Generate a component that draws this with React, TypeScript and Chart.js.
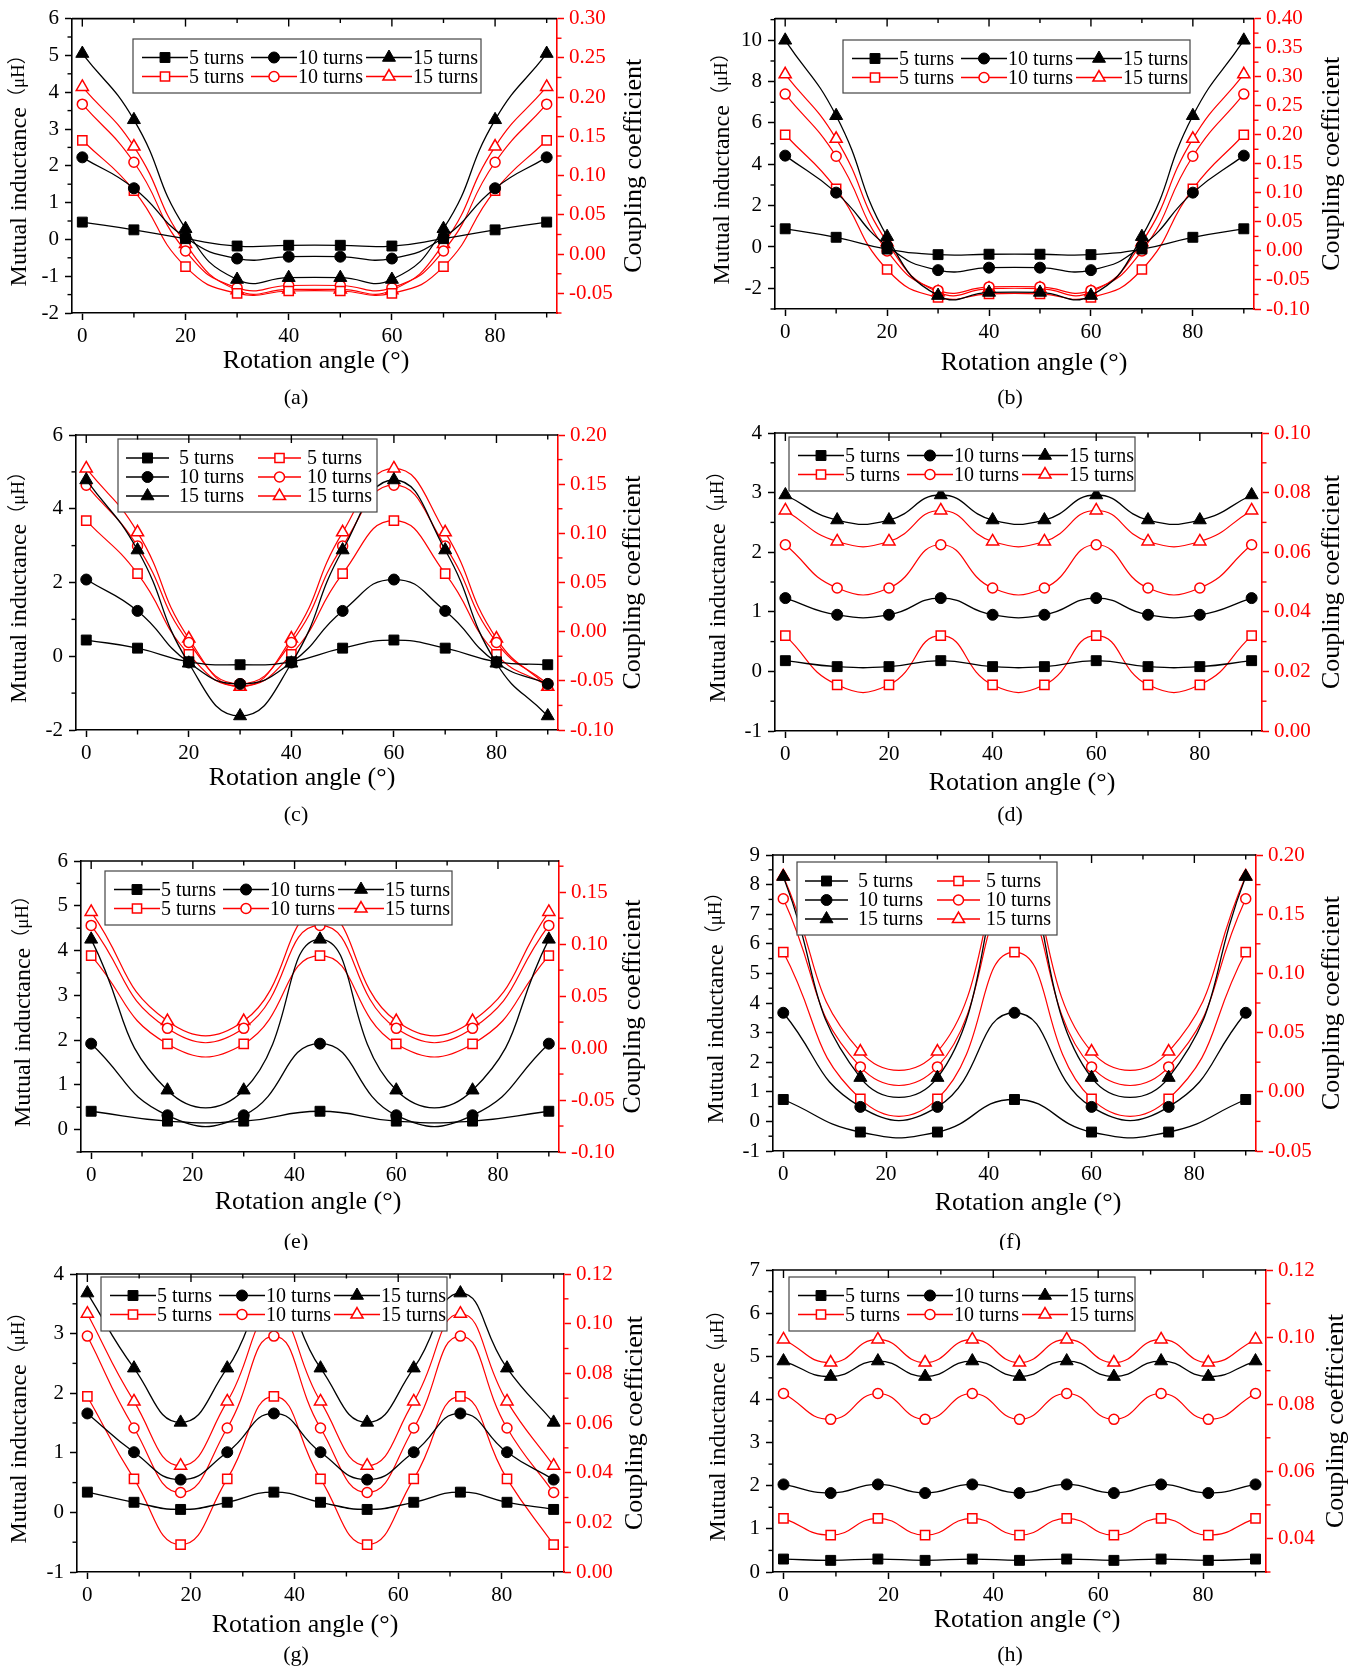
import React, { useEffect, useRef } from "react";
import { Chart, registerables } from "chart.js";

Chart.register(...registerables);

const SERIF = "'Liberation Serif', 'Times New Roman', 'DejaVu Serif', serif";
const UNIT_FONT = "'Liberation Serif', 'Noto Sans CJK SC', serif";
const RED = "#ff0000";

// ---------- angles (x values) ----------
const angles10 = [0, 10, 20, 30, 40, 50, 60, 70, 80, 90];
const angles15 = [0, 15, 30, 45, 60, 75, 90];
const angles9 = [0, 9, 18, 27, 36, 45, 54, 63, 72, 81, 90];

const seriesNames = ["5 turns", "10 turns", "15 turns"];
const xAxisTitle = "Rotation angle (°)";
const mutualTitle = "Mutual inductance";
const mutualUnit = "（μH）";
const couplingTitle = "Coupling coefficient";

// ---------- (a) ----------
const aMutual5 = [0.47, 0.26, 0.02, -0.18, -0.16, -0.16, -0.18, 0.02, 0.26, 0.47];
const aMutual10 = [2.23, 1.39, 0.05, -0.52, -0.47, -0.47, -0.52, 0.05, 1.39, 2.23];
const aMutual15 = [5.05, 3.25, 0.29, -1.09, -1.04, -1.04, -1.09, 0.29, 3.25, 5.05];
const aCoupling5 = [0.145, 0.081, -0.016, -0.05, -0.047, -0.047, -0.05, -0.016, 0.081, 0.145];
const aCoupling10 = [0.191, 0.117, 0.004, -0.043, -0.04, -0.04, -0.043, 0.004, 0.117, 0.191];
const aCoupling15 = [0.213, 0.137, 0.013, -0.046, -0.045, -0.045, -0.046, 0.013, 0.137, 0.213];

// ---------- (b) ----------
const bMutual5 = [0.88, 0.47, -0.1, -0.37, -0.35, -0.35, -0.37, -0.1, 0.47, 0.88];
const bMutual10 = [4.42, 2.63, 0.05, -1.12, -1.0, -1.0, -1.12, 0.05, 2.63, 4.42];
const bMutual15 = [10.0, 6.35, 0.5, -2.35, -2.2, -2.2, -2.35, 0.5, 6.35, 10.0];
const bCoupling5 = [0.2, 0.107, -0.032, -0.08, -0.074, -0.074, -0.08, -0.032, 0.107, 0.2];
const bCoupling10 = [0.27, 0.163, 0.0, -0.068, -0.062, -0.062, -0.068, 0.0, 0.163, 0.27];
const bCoupling15 = [0.304, 0.193, 0.015, -0.071, -0.065, -0.065, -0.071, 0.015, 0.193, 0.304];

// ---------- (c) ----------
const cMutual5 = [0.44, 0.22, -0.15, -0.23, -0.15, 0.22, 0.44, 0.22, -0.15, -0.23];
const cMutual10 = [2.08, 1.23, -0.17, -0.75, -0.17, 1.23, 2.08, 1.23, -0.17, -0.75];
const cMutual15 = [4.78, 2.88, -0.19, -1.62, -0.19, 2.88, 4.78, 2.88, -0.19, -1.62];
const cCoupling5 = [0.113, 0.059, -0.023, -0.055, -0.023, 0.059, 0.113, 0.059, -0.023, -0.055];
const cCoupling10 = [0.149, 0.087, -0.011, -0.053, -0.011, 0.087, 0.149, 0.087, -0.011, -0.053];
const cCoupling15 = [0.166, 0.101, -0.007, -0.056, -0.007, 0.101, 0.166, 0.101, -0.007, -0.056];

// ---------- (d) ----------
const dMutual5 = [0.18, 0.08, 0.08, 0.18, 0.08, 0.08, 0.18, 0.08, 0.08, 0.18];
const dMutual10 = [1.23, 0.95, 0.95, 1.23, 0.95, 0.95, 1.23, 0.95, 0.95, 1.23];
const dMutual15 = [2.96, 2.54, 2.54, 2.96, 2.54, 2.54, 2.96, 2.54, 2.54, 2.96];
const dCoupling5 = [0.032, 0.0155, 0.0155, 0.032, 0.0155, 0.0155, 0.032, 0.0155, 0.0155, 0.032];
const dCoupling10 = [0.0625, 0.048, 0.048, 0.0625, 0.048, 0.048, 0.0625, 0.048, 0.048, 0.0625];
const dCoupling15 = [0.074, 0.0636, 0.0636, 0.074, 0.0636, 0.0636, 0.074, 0.0636, 0.0636, 0.074];

// ---------- (e) ----------
const eMutual5 = [0.41, 0.19, 0.19, 0.41, 0.19, 0.19, 0.41];
const eMutual10 = [1.92, 0.32, 0.32, 1.92, 0.32, 0.32, 1.92];
const eMutual15 = [4.25, 0.88, 0.88, 4.25, 0.88, 0.88, 4.25];
const eCoupling5 = [0.089, 0.004, 0.004, 0.089, 0.004, 0.004, 0.089];
const eCoupling10 = [0.118, 0.019, 0.019, 0.118, 0.019, 0.019, 0.118];
const eCoupling15 = [0.131, 0.026, 0.026, 0.131, 0.026, 0.026, 0.131];

// ---------- (f) ----------
const fMutual5 = [0.74, -0.36, -0.36, 0.74, -0.36, -0.36, 0.74];
const fMutual10 = [3.67, 0.49, 0.49, 3.67, 0.49, 0.49, 3.67];
const fMutual15 = [8.27, 1.48, 1.48, 8.27, 1.48, 1.48, 8.27];
const fCoupling5 = [0.118, -0.006, -0.006, 0.118, -0.006, -0.006, 0.118];
const fCoupling10 = [0.163, 0.021, 0.021, 0.163, 0.021, 0.021, 0.163];
const fCoupling15 = [0.182, 0.034, 0.034, 0.182, 0.034, 0.034, 0.182];

// ---------- (g) ----------
const gMutual5 = [0.34, 0.17, 0.05, 0.17, 0.34, 0.17, 0.05, 0.17, 0.34, 0.17, 0.05];
const gMutual10 = [1.66, 1.01, 0.55, 1.01, 1.66, 1.01, 0.55, 1.01, 1.66, 1.01, 0.55];
const gMutual15 = [3.68, 2.42, 1.51, 2.42, 3.68, 2.42, 1.51, 2.42, 3.68, 2.42, 1.51];
const gCoupling5 = [0.0707, 0.0375, 0.011, 0.0375, 0.0707, 0.0375, 0.011, 0.0375, 0.0707, 0.0375, 0.011];
const gCoupling10 = [0.095, 0.058, 0.032, 0.058, 0.095, 0.058, 0.032, 0.058, 0.095, 0.058, 0.032];
const gCoupling15 = [0.104, 0.0687, 0.0428, 0.0687, 0.104, 0.0687, 0.0428, 0.0687, 0.104, 0.0687, 0.0428];

// ---------- (h) ----------
const hMutual5 = [0.3, 0.27, 0.3, 0.27, 0.3, 0.27, 0.3, 0.27, 0.3, 0.27, 0.3];
const hMutual10 = [2.03, 1.83, 2.03, 1.83, 2.03, 1.83, 2.03, 1.83, 2.03, 1.83, 2.03];
const hMutual15 = [4.89, 4.53, 4.89, 4.53, 4.89, 4.53, 4.89, 4.53, 4.89, 4.53, 4.89];
const hCoupling5 = [0.046, 0.041, 0.046, 0.041, 0.046, 0.041, 0.046, 0.041, 0.046, 0.041, 0.046];
const hCoupling10 = [0.0832, 0.0755, 0.0832, 0.0755, 0.0832, 0.0755, 0.0832, 0.0755, 0.0832, 0.0755, 0.0832];
const hCoupling15 = [0.0993, 0.0924, 0.0993, 0.0924, 0.0993, 0.0924, 0.0993, 0.0924, 0.0993, 0.0924, 0.0993];

type Panel = {
  tag: string;
  angles: number[];
  mutual: number[][];
  coupling: number[][];
  mRange: [number, number];
  mStep: number;
  kRange: [number, number];
  kStep: number;
  legend: "rows" | "cols";
};

const panels: Panel[] = [
  { tag: "a", angles: angles10, mutual: [aMutual5, aMutual10, aMutual15], coupling: [aCoupling5, aCoupling10, aCoupling15], mRange: [-2, 6], mStep: 1, kRange: [-0.075, 0.3], kStep: 0.05, legend: "rows" },
  { tag: "b", angles: angles10, mutual: [bMutual5, bMutual10, bMutual15], coupling: [bCoupling5, bCoupling10, bCoupling15], mRange: [-3, 11.05], mStep: 2, kRange: [-0.1, 0.4], kStep: 0.05, legend: "rows" },
  { tag: "c", angles: angles10, mutual: [cMutual5, cMutual10, cMutual15], coupling: [cCoupling5, cCoupling10, cCoupling15], mRange: [-2, 6], mStep: 2, kRange: [-0.1, 0.2], kStep: 0.05, legend: "cols" },
  { tag: "d", angles: angles10, mutual: [dMutual5, dMutual10, dMutual15], coupling: [dCoupling5, dCoupling10, dCoupling15], mRange: [-1, 4], mStep: 1, kRange: [0, 0.1], kStep: 0.02, legend: "rows" },
  { tag: "e", angles: angles15, mutual: [eMutual5, eMutual10, eMutual15], coupling: [eCoupling5, eCoupling10, eCoupling15], mRange: [-0.5, 6], mStep: 1, kRange: [-0.1, 0.18], kStep: 0.05, legend: "rows" },
  { tag: "f", angles: angles15, mutual: [fMutual5, fMutual10, fMutual15], coupling: [fCoupling5, fCoupling10, fCoupling15], mRange: [-1, 9], mStep: 1, kRange: [-0.05, 0.2], kStep: 0.05, legend: "cols" },
  { tag: "g", angles: angles9, mutual: [gMutual5, gMutual10, gMutual15], coupling: [gCoupling5, gCoupling10, gCoupling15], mRange: [-1, 4], mStep: 1, kRange: [0, 0.12], kStep: 0.02, legend: "rows" },
  { tag: "h", angles: angles9, mutual: [hMutual5, hMutual10, hMutual15], coupling: [hCoupling5, hCoupling10, hCoupling15], mRange: [0, 7], mStep: 1, kRange: [0.03, 0.12], kStep: 0.02, legend: "rows" },
];

// ---------- layout (positions only) ----------
type Frame = {
  left: number; top: number; w: number; h: number;
  plot: [number, number, number, number]; // L, R, T, B
  legend: [number, number, number, number]; // x, y, w, h
  xTitle: [number, number];
  sub: [number, number];
  yTitleX: number;
  kTitleX: number;
};

const frames: Frame[] = [
  { left: 0, top: 0, w: 680, h: 410, plot: [72, 557, 16, 313], legend: [133, 39, 348, 54], xTitle: [316, 361], sub: [296, 398], yTitleX: 20, kTitleX: 634 },
  { left: 680, top: 0, w: 681, h: 410, plot: [95, 574, 16, 309], legend: [163, 40, 347, 53], xTitle: [354, 363], sub: [330, 398], yTitleX: 43, kTitleX: 652 },
  { left: 0, top: 410, w: 680, h: 420, plot: [76, 558, 25, 320], legend: [118, 29, 259, 73], xTitle: [302, 368], sub: [296, 405], yTitleX: 20, kTitleX: 633 },
  { left: 680, top: 410, w: 681, h: 420, plot: [95, 582, 23, 321], legend: [109, 27, 346, 54], xTitle: [342, 373], sub: [330, 405], yTitleX: 39, kTitleX: 652 },
  { left: 0, top: 830, w: 680, h: 420, plot: [81, 559, 31, 322], legend: [105, 41, 347, 54], xTitle: [308, 372], sub: [296, 412], yTitleX: 24, kTitleX: 633 },
  { left: 680, top: 830, w: 681, h: 420, plot: [93, 576, 25, 321], legend: [117, 32, 260, 73], xTitle: [348, 373], sub: [330, 412], yTitleX: 37, kTitleX: 652 },
  { left: 0, top: 1250, w: 680, h: 420, plot: [77, 564, 24, 322], legend: [101, 27, 346, 54], xTitle: [305, 375], sub: [296, 405], yTitleX: 20, kTitleX: 635 },
  { left: 680, top: 1250, w: 681, h: 420, plot: [93, 586, 20, 322], legend: [109, 27, 346, 54], xTitle: [347, 370], sub: [330, 405], yTitleX: 39, kTitleX: 656 },
];

const markerStyles = ["rect", "circle", "triangle"];
const blackRadii = [7, 5.5, 7.5];
const redRadii = [6.5, 5, 7];

function drawMarker(ctx: CanvasRenderingContext2D, style: string, x: number, y: number, r: number, fill: string, stroke: string, lw: number) {
  ctx.beginPath();
  if (style === "rect") {
    const s = Math.SQRT1_2 * r;
    ctx.rect(x - s, y - s, 2 * s, 2 * s);
  } else if (style === "circle") {
    ctx.arc(x, y, r, 0, Math.PI * 2);
  } else {
    for (let k = 0; k < 3; k++) {
      const a = (k * 2 * Math.PI) / 3;
      const px = x + Math.sin(a) * r;
      const py = y - Math.cos(a) * r;
      if (k === 0) ctx.moveTo(px, py);
      else ctx.lineTo(px, py);
    }
    ctx.closePath();
  }
  ctx.fillStyle = fill;
  ctx.fill();
  ctx.lineWidth = lw;
  ctx.strokeStyle = stroke;
  ctx.stroke();
}

function stepValues(min: number, max: number, step: number) {
  const out: { v: number; i: number }[] = [];
  const start = Math.ceil(min / step - 1e-9);
  const end = Math.floor(max / step + 1e-9);
  for (let i = start; i <= end; i++) out.push({ v: i * step, i });
  return out;
}

function legendItem(ctx: CanvasRenderingContext2D, x: number, y: number, len: number, textX: number, idx: number, red: boolean) {
  ctx.save();
  ctx.strokeStyle = red ? RED : "#000";
  ctx.lineWidth = 1.3;
  ctx.beginPath();
  ctx.moveTo(x, y);
  ctx.lineTo(x + len, y);
  ctx.stroke();
  if (red) drawMarker(ctx, markerStyles[idx], x + len / 2, y, redRadii[idx], "#fff", RED, 1.5);
  else drawMarker(ctx, markerStyles[idx], x + len / 2, y, blackRadii[idx], "#000", "#000", 1);
  ctx.fillStyle = "#000";
  ctx.font = `20px ${SERIF}`;
  ctx.textAlign = "left";
  ctx.textBaseline = "middle";
  ctx.fillText(seriesNames[idx], textX, y + 1);
  ctx.restore();
}

function makeDecor(p: Panel, f: Frame) {
  return {
    id: "decor",
    afterDatasetsDraw(chart: any) {
      const ctx: CanvasRenderingContext2D = chart.ctx;
      const [bx, by, bw, bh] = f.legend;
      ctx.save();
      ctx.fillStyle = "#fff";
      ctx.fillRect(bx, by, bw, bh);
      ctx.strokeStyle = "#444";
      ctx.lineWidth = 1.2;
      ctx.strokeRect(bx, by, bw, bh);
      ctx.restore();
      if (p.legend === "rows") {
        const cols = [9, 118, 233];
        const rows = [18.5, 37.5];
        for (let r = 0; r < 2; r++) {
          for (let c = 0; c < 3; c++) {
            const x = bx + cols[c];
            legendItem(ctx, x, by + rows[r], 46, x + 47, c, r === 1);
          }
        }
      } else {
        const cols = [8, 140];
        const texts = [61, 189];
        const rows = [19, 38, 57];
        for (let c = 0; c < 2; c++) {
          for (let r = 0; r < 3; r++) {
            legendItem(ctx, bx + cols[c], by + rows[r], 43, bx + texts[c], r, c === 1);
          }
        }
      }
    },
    afterDraw(chart: any) {
      const ctx: CanvasRenderingContext2D = chart.ctx;
      const area = chart.chartArea;
      const xs = chart.scales.x;
      const ys = chart.scales.y;
      const ks = chart.scales.y1;
      ctx.save();
      // top frame line
      ctx.strokeStyle = "#000";
      ctx.lineWidth = 1.6;
      ctx.beginPath();
      ctx.moveTo(area.left, area.top);
      ctx.lineTo(area.right, area.top);
      ctx.stroke();
      // x ticks: top inward, bottom minor outward
      ctx.lineWidth = 1.4;
      for (const t of stepValues(0, 90, 10)) {
        const px = xs.getPixelForValue(t.v);
        const major = t.i % 2 === 0;
        ctx.beginPath();
        ctx.moveTo(px, area.top);
        ctx.lineTo(px, area.top + (major ? 8 : 4.5));
        if (!major) {
          ctx.moveTo(px, area.bottom);
          ctx.lineTo(px, area.bottom + 4.5);
        }
        ctx.stroke();
      }
      // left minor ticks
      for (const t of stepValues(p.mRange[0], p.mRange[1], p.mStep / 2)) {
        if (t.i % 2 === 0) continue;
        const py = ys.getPixelForValue(t.v);
        ctx.beginPath();
        ctx.moveTo(area.left, py);
        ctx.lineTo(area.left - 4.5, py);
        ctx.stroke();
      }
      // right minor ticks
      ctx.strokeStyle = RED;
      for (const t of stepValues(p.kRange[0], p.kRange[1], p.kStep / 2)) {
        if (t.i % 2 === 0) continue;
        const py = ks.getPixelForValue(t.v);
        ctx.beginPath();
        ctx.moveTo(area.right, py);
        ctx.lineTo(area.right + 4.5, py);
        ctx.stroke();
      }
      // titles
      ctx.fillStyle = "#000";
      ctx.textAlign = "center";
      ctx.textBaseline = "middle";
      ctx.font = `26px ${SERIF}`;
      ctx.fillText(xAxisTitle, f.xTitle[0], f.xTitle[1]);
      ctx.font = `22px ${SERIF}`;
      ctx.fillText(`(${p.tag})`, f.sub[0], f.sub[1]);
      const midY = (area.top + area.bottom) / 2;
      // left title (rotated)
      ctx.save();
      ctx.translate(f.yTitleX, midY);
      ctx.rotate(-Math.PI / 2);
      ctx.font = `24px ${SERIF}`;
      const w1 = ctx.measureText(mutualTitle).width;
      ctx.font = `19px ${UNIT_FONT}`;
      const w2 = ctx.measureText(mutualUnit).width;
      const start = -(w1 + w2) / 2;
      ctx.textAlign = "left";
      ctx.font = `24px ${SERIF}`;
      ctx.fillText(mutualTitle, start, 0);
      ctx.font = `19px ${UNIT_FONT}`;
      ctx.fillText(mutualUnit, start + w1, -1);
      ctx.restore();
      // right title (rotated)
      ctx.save();
      ctx.translate(f.kTitleX, midY);
      ctx.rotate(-Math.PI / 2);
      ctx.font = `26px ${SERIF}`;
      ctx.textAlign = "center";
      ctx.fillText(couplingTitle, 0, 0);
      ctx.restore();
      ctx.restore();
    },
  };
}

function makeConfig(p: Panel, f: Frame): any {
  const [L, R, T, B] = f.plot;
  const datasets: any[] = [];
  p.mutual.forEach((vals, i) => {
    datasets.push({
      label: "M " + seriesNames[i],
      data: p.angles.map((x, j) => ({ x, y: vals[j] })),
      yAxisID: "y",
      borderColor: "#000",
      backgroundColor: "#000",
      borderWidth: 1.3,
      pointStyle: markerStyles[i],
      pointRadius: blackRadii[i],
      pointBackgroundColor: "#000",
      pointBorderColor: "#000",
      pointBorderWidth: 1,
      tension: 0.5,
      fill: false,
    });
  });
  p.coupling.forEach((vals, i) => {
    datasets.push({
      label: "k " + seriesNames[i],
      data: p.angles.map((x, j) => ({ x, y: vals[j] })),
      yAxisID: "y1",
      borderColor: RED,
      backgroundColor: "#fff",
      borderWidth: 1.2,
      pointStyle: markerStyles[i],
      pointRadius: redRadii[i],
      pointBackgroundColor: "#fff",
      pointBorderColor: RED,
      pointBorderWidth: 1.5,
      tension: 0.5,
      fill: false,
    });
  });
  const tickFont = { family: SERIF, size: 21 };
  return {
    type: "line",
    data: { datasets },
    options: {
      animation: false,
      responsive: false,
      maintainAspectRatio: false,
      devicePixelRatio: 1,
      events: [],
      layout: { padding: { top: T, left: 0, right: 0, bottom: 0 } },
      plugins: { legend: { display: false }, tooltip: { enabled: false }, title: { display: false } },
      scales: {
        x: {
          type: "linear",
          position: "bottom",
          min: -2,
          max: 92,
          ticks: { stepSize: 20, includeBounds: false, color: "#000", font: tickFont, padding: 4, maxRotation: 0, autoSkip: false, callback: (v: number) => String(v) },
          grid: { display: true, drawOnChartArea: false, drawTicks: true, tickLength: 7, tickWidth: 1.5, tickColor: "#000" },
          border: { display: true, color: "#000", width: 1.6 },
          afterFit: (s: any) => { s.height = f.h - B; },
        },
        y: {
          type: "linear",
          position: "left",
          min: p.mRange[0],
          max: p.mRange[1],
          ticks: { stepSize: p.mStep, includeBounds: false, color: "#000", font: tickFont, padding: 6, autoSkip: false, callback: (v: number) => String(Math.round(v * 100) / 100) },
          grid: { display: true, drawOnChartArea: false, drawTicks: true, tickLength: 7, tickWidth: 1.5, tickColor: "#000" },
          border: { display: true, color: "#000", width: 1.6 },
          afterFit: (s: any) => { s.width = L; },
        },
        y1: {
          type: "linear",
          position: "right",
          min: p.kRange[0],
          max: p.kRange[1],
          ticks: { stepSize: p.kStep, includeBounds: false, color: RED, font: tickFont, padding: 5, autoSkip: false, callback: (v: number) => Number(v).toFixed(2) },
          grid: { display: true, drawOnChartArea: false, drawTicks: true, tickLength: 7, tickWidth: 1.5, tickColor: RED },
          border: { display: true, color: RED, width: 1.6 },
          afterFit: (s: any) => { s.width = f.w - R; },
        },
      },
    },
    plugins: [makeDecor(p, f)],
  };
}

function PanelChart({ panel, frame }: { panel: Panel; frame: Frame }) {
  const ref = useRef<HTMLCanvasElement | null>(null);
  useEffect(() => {
    if (!ref.current) return;
    const chart = new Chart(ref.current, makeConfig(panel, frame));
    return () => chart.destroy();
  }, [panel, frame]);
  return (
    <canvas
      ref={ref}
      width={frame.w}
      height={frame.h}
      style={{ position: "absolute", left: frame.left, top: frame.top, width: frame.w, height: frame.h }}
    />
  );
}

export default function App() {
  return (
    <div style={{ position: "absolute", left: 0, top: 0, width: 1361, height: 1670, background: "#fff", overflow: "hidden" }}>
      {panels.map((p, i) => (
        <PanelChart key={p.tag} panel={p} frame={frames[i]} />
      ))}
    </div>
  );
}
